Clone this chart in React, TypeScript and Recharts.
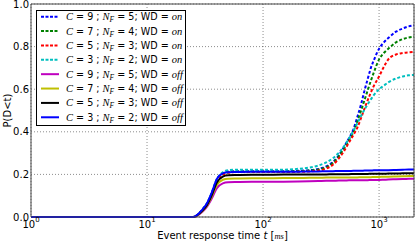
import React from 'react';
import { LineChart, Line, XAxis, YAxis, CartesianGrid, Legend, Label } from 'recharts';

const times = [1, 25, 30, 33, 36, 40, 45, 50, 60, 80, 100, 150, 200, 250, 300, 350, 400, 450, 500, 550, 600, 650, 700, 750, 800, 850, 900, 1000, 1100, 1200, 1400, 1600, 1800, 2000];

const c9on = [0, 0, 0.035, 0.065, 0.11, 0.175, 0.205, 0.213, 0.215, 0.215, 0.215, 0.215, 0.217, 0.22, 0.226, 0.238, 0.258, 0.29, 0.33, 0.37, 0.41, 0.47, 0.53, 0.595, 0.65, 0.7, 0.735, 0.79, 0.82, 0.84, 0.87, 0.885, 0.895, 0.9];
const c7on = [0, 0, 0.033, 0.062, 0.105, 0.17, 0.2, 0.21, 0.213, 0.213, 0.213, 0.213, 0.215, 0.218, 0.223, 0.234, 0.254, 0.285, 0.322, 0.36, 0.397, 0.45, 0.5, 0.55, 0.597, 0.64, 0.678, 0.74, 0.77, 0.79, 0.82, 0.835, 0.843, 0.847];
const c5on = [0, 0, 0.033, 0.062, 0.105, 0.168, 0.198, 0.208, 0.211, 0.211, 0.211, 0.211, 0.212, 0.214, 0.218, 0.227, 0.245, 0.275, 0.31, 0.35, 0.385, 0.42, 0.465, 0.51, 0.55, 0.585, 0.615, 0.66, 0.705, 0.74, 0.763, 0.77, 0.773, 0.775];
const c3on = [0, 0, 0.035, 0.066, 0.112, 0.178, 0.21, 0.22, 0.222, 0.222, 0.222, 0.222, 0.226, 0.232, 0.242, 0.256, 0.276, 0.302, 0.333, 0.368, 0.405, 0.44, 0.475, 0.505, 0.53, 0.552, 0.572, 0.6, 0.617, 0.632, 0.65, 0.66, 0.665, 0.667];
const c9off = [0, 0, 0.025, 0.05, 0.085, 0.135, 0.158, 0.163, 0.164, 0.165, 0.165, 0.166, 0.167, 0.168, 0.169, 0.17, 0.17, 0.171, 0.171, 0.172, 0.172, 0.172, 0.173, 0.173, 0.173, 0.174, 0.174, 0.174, 0.175, 0.176, 0.177, 0.178, 0.179, 0.18];
const c7off = [0, 0, 0.028, 0.055, 0.095, 0.15, 0.175, 0.18, 0.181, 0.182, 0.182, 0.183, 0.183, 0.184, 0.184, 0.185, 0.185, 0.185, 0.186, 0.186, 0.186, 0.186, 0.187, 0.187, 0.187, 0.187, 0.188, 0.188, 0.189, 0.189, 0.19, 0.191, 0.192, 0.193];
const c5off = [0, 0, 0.03, 0.058, 0.1, 0.162, 0.19, 0.196, 0.197, 0.198, 0.198, 0.199, 0.199, 0.2, 0.2, 0.2, 0.201, 0.201, 0.201, 0.201, 0.202, 0.202, 0.202, 0.202, 0.202, 0.203, 0.203, 0.203, 0.203, 0.204, 0.204, 0.205, 0.205, 0.205];
const c3off = [0, 0, 0.035, 0.066, 0.112, 0.178, 0.205, 0.21, 0.211, 0.212, 0.212, 0.213, 0.213, 0.214, 0.214, 0.215, 0.215, 0.216, 0.216, 0.216, 0.217, 0.217, 0.217, 0.218, 0.218, 0.218, 0.219, 0.219, 0.22, 0.22, 0.221, 0.222, 0.223, 0.223];

const seriesKeys = ['c9on', 'c7on', 'c5on', 'c3on', 'c9off', 'c7off', 'c5off', 'c3off'];
const seriesValues = [c9on, c7on, c5on, c3on, c9off, c7off, c5off, c3off];
const seriesColors = ['#0000ff', '#008000', '#ff0000', '#00bfbf', '#bf00bf', '#bfbf00', '#000000', '#0000ff'];
const seriesDashed = [true, true, true, true, false, false, false, false];
const legendC = ['9', '7', '5', '3', '9', '7', '5', '3'];
const legendNF = ['5', '4', '3', '2', '5', '4', '3', '2'];
const legendWD = ['on', 'on', 'on', 'on', 'off', 'off', 'off', 'off'];

const xMajorTicks = [1, 10, 100, 1000];
const xMinorTicks = [2, 3, 4, 5, 6, 7, 8, 9, 20, 30, 40, 50, 60, 70, 80, 90, 200, 300, 400, 500, 600, 700, 800, 900];
const yTicks = [0, 0.2, 0.4, 0.6, 0.8, 1.0];

const data = times.map((t, i) => {
  const row: any = { t };
  seriesKeys.forEach((k, j) => {
    row[k] = seriesValues[j][i];
  });
  return row;
});

const SANS = 'DejaVu Sans';
const MATH = 'Liberation Serif';
const FRAME = '#444';
const THIN = 0.01;

const XTick = (props: any) => {
  const { x, y, payload } = props;
  const exp = Math.round(Math.log10(payload.value));
  return (
    <text x={x} y={y + 11} textAnchor="middle" fontSize={10} fontFamily={SANS} fill="#000">
      <tspan>10</tspan>
      <tspan dy={-6} fontSize={7}>{exp}</tspan>
    </text>
  );
};

const LegendBox = () => (
  <svg width={150} height={116} style={{ display: 'block', overflow: 'visible' }}>
    <rect x={0.5} y={0.5} width={149} height={115} fill="#fff" stroke="#000" strokeWidth={1} />
    {seriesKeys.map((k, i) => {
      const cy = 6.7 + i * 14.37;
      return (
        <g key={k}>
          <line x1={5} x2={23} y1={cy} y2={cy} stroke={seriesColors[i]} strokeWidth={2}
            strokeDasharray={seriesDashed[i] ? '3 1.5' : undefined} />
          <text x={30} y={cy + 3.5} fontSize={9.6} fontFamily={SANS} fill="#000">
            <tspan fontFamily={MATH} fontStyle="italic" fontSize={10.5}>C</tspan>
            <tspan>{' = ' + legendC[i] + ' ; '}</tspan>
            <tspan fontFamily={MATH} fontStyle="italic" fontSize={10.5}>N</tspan>
            <tspan fontFamily={MATH} fontStyle="italic" fontSize={7.5} dy={2}>F</tspan>
            <tspan dy={-2}>{' = ' + legendNF[i] + '; WD = '}</tspan>
            <tspan fontFamily={MATH} fontStyle="italic" fontSize={10.5}>{legendWD[i]}</tspan>
          </text>
        </g>
      );
    })}
  </svg>
);

export default function App() {
  return (
    <div style={{ position: 'absolute', left: 0, top: 0, width: 415, height: 243, background: '#fff' }}>
      <LineChart width={415} height={243} data={data} margin={{ top: 4, right: 1, bottom: 0, left: 0 }}>
        <CartesianGrid stroke="#000" strokeOpacity={0.45} strokeDasharray="1 2" strokeWidth={1} />
        <XAxis dataKey="t" type="number" scale="log" domain={[1, 2000]} allowDataOverflow
          ticks={xMajorTicks} interval={0} height={26} tickLine={false} tickSize={0} tickMargin={0}
          axisLine={{ stroke: FRAME }} tick={<XTick />}>
          <Label content={(p: any) => (
            <text x={p.viewBox.x + p.viewBox.width / 2} y={p.viewBox.y + 22} textAnchor="middle"
              fontSize={10} fontFamily={SANS} fill="#000">
              <tspan>Event response time </tspan>
              <tspan fontStyle="italic">t</tspan>
              <tspan> [</tspan>
              <tspan fontFamily={MATH} fontStyle="italic" fontSize={8.5}>ms</tspan>
              <tspan>]</tspan>
            </text>
          )} />
        </XAxis>
        <XAxis xAxisId="bmaj" dataKey="t" type="number" scale="log" domain={[1, 2000]} allowDataOverflow
          ticks={xMajorTicks} interval={0} height={THIN} mirror tick={false} tickSize={4}
          axisLine={false} tickLine={{ stroke: FRAME }} />
        <XAxis xAxisId="bmin" dataKey="t" type="number" scale="log" domain={[1, 2000]} allowDataOverflow
          ticks={xMinorTicks} interval={0} height={THIN} mirror tick={false} tickSize={2}
          axisLine={false} tickLine={{ stroke: FRAME }} />
        <XAxis xAxisId="tmaj" orientation="top" dataKey="t" type="number" scale="log" domain={[1, 2000]} allowDataOverflow
          ticks={xMajorTicks} interval={0} height={THIN} mirror tick={false} tickSize={4}
          axisLine={{ stroke: FRAME }} tickLine={{ stroke: FRAME }} />
        <XAxis xAxisId="tmin" orientation="top" dataKey="t" type="number" scale="log" domain={[1, 2000]} allowDataOverflow
          ticks={xMinorTicks} interval={0} height={THIN} mirror tick={false} tickSize={2}
          axisLine={false} tickLine={{ stroke: FRAME }} />
        <YAxis type="number" domain={[0, 1]} ticks={yTicks} interval={0} width={31}
          tickLine={false} tickSize={0} tickMargin={2} axisLine={{ stroke: FRAME }}
          tickFormatter={(v: number) => v.toFixed(1)}
          tick={{ fontSize: 10, fontFamily: SANS, fill: '#000' }}>
          <Label content={(p: any) => {
            const cx = p.viewBox.x + 11;
            const cy = p.viewBox.y + p.viewBox.height / 2;
            return (
              <text x={cx} y={cy} transform={`rotate(-90, ${cx}, ${cy})`} textAnchor="middle"
                fontSize={10} fontFamily={SANS} fill="#000">P(D&lt;t)</text>
            );
          }} />
        </YAxis>
        <YAxis yAxisId="lmaj" type="number" domain={[0, 1]} ticks={yTicks} interval={0} width={THIN}
          mirror tick={false} tickSize={4} axisLine={false} tickLine={{ stroke: FRAME }} />
        <YAxis yAxisId="rmaj" orientation="right" type="number" domain={[0, 1]} ticks={yTicks} interval={0} width={THIN}
          mirror tick={false} tickSize={4} axisLine={{ stroke: FRAME }} tickLine={{ stroke: FRAME }} />
        {seriesKeys.map((k, i) => (
          <Line key={k} dataKey={k} type="monotone" stroke={seriesColors[i]} strokeWidth={2}
            strokeDasharray={seriesDashed[i] ? '3 2' : undefined} dot={false} activeDot={false}
            isAnimationActive={false} />
        ))}
        <Legend verticalAlign="middle" align="center" layout="horizontal"
          wrapperStyle={{ left: 36, top: 10, width: 150, height: 116 }}
          content={() => <LegendBox />} />
      </LineChart>
    </div>
  );
}
